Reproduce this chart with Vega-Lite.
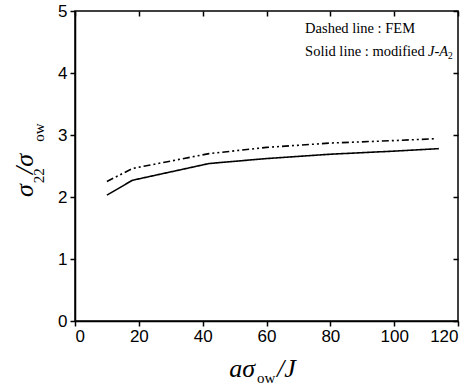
{
  "$schema": "https://vega.github.io/schema/vega-lite/v6.json",
  "width": 383,
  "height": 310,
  "autosize": {"type": "none"},
  "padding": {"left": 75, "top": 11, "right": 17, "bottom": 68},
  "background": "white",
  "config": {
    "view": {"stroke": "black", "strokeWidth": 1.5},
    "axis": {"domainColor": "black", "domainWidth": 1.5, "tickColor": "black", "tickWidth": 1.5, "tickSize": 5, "labelFont": "Liberation Sans", "labelFontSize": 17, "labelColor": "black", "grid": false, "title": null}
  },
  "datasets": {
    "curves": [
      {"series": "FEM", "x": 10, "y": 2.25},
      {"series": "FEM", "x": 18, "y": 2.46},
      {"series": "FEM", "x": 42, "y": 2.70},
      {"series": "FEM", "x": 60, "y": 2.80},
      {"series": "FEM", "x": 80, "y": 2.87},
      {"series": "FEM", "x": 100, "y": 2.91},
      {"series": "FEM", "x": 113, "y": 2.94},
      {"series": "modified J-A2", "x": 10, "y": 2.03},
      {"series": "modified J-A2", "x": 18, "y": 2.27},
      {"series": "modified J-A2", "x": 42, "y": 2.54},
      {"series": "modified J-A2", "x": 60, "y": 2.62},
      {"series": "modified J-A2", "x": 80, "y": 2.69},
      {"series": "modified J-A2", "x": 100, "y": 2.74},
      {"series": "modified J-A2", "x": 114, "y": 2.78}
    ],
    "one": [{}]
  },
  "resolve": {"axis": {"x": "independent", "y": "independent"}},
  "layer": [
    {
      "data": {"name": "curves"},
      "mark": {"type": "line", "color": "black", "strokeWidth": 1.6},
      "encoding": {
        "x": {"field": "x", "type": "quantitative", "scale": {"domain": [0, 120], "nice": false}, "axis": {"orient": "bottom", "values": [0, 20, 40, 60, 80, 100, 120], "labelPadding": 2}},
        "y": {"field": "y", "type": "quantitative", "scale": {"domain": [0, 5], "nice": false}, "axis": {"orient": "left", "values": [0, 1, 2, 3, 4, 5], "labelPadding": 3}},
        "strokeDash": {"field": "series", "type": "nominal", "scale": {"domain": ["FEM", "modified J-A2"], "range": [[7, 3, 2, 3, 2, 3], [1, 0]]}, "legend": null}
      }
    },
    {
      "data": {"name": "one"},
      "mark": {"type": "text", "font": "Liberation Serif", "fontSize": 14.5, "align": "left", "baseline": "alphabetic", "color": "black"},
      "encoding": {
        "x": {"datum": 72.1, "type": "quantitative", "axis": {"orient": "top", "values": [0, 20, 40, 60, 80, 100, 120], "labels": false, "tickSize": -5, "domain": false}},
        "y": {"datum": 4.64, "type": "quantitative", "axis": {"orient": "right", "values": [0, 1, 2, 3, 4, 5], "labels": false, "tickSize": -5, "domain": false}},
        "text": {"value": "Dashed line : FEM"}
      }
    },
    {
      "data": {"name": "one"},
      "mark": {"type": "text", "font": "Liberation Serif", "fontSize": 14.5, "align": "left", "baseline": "alphabetic", "color": "black"},
      "encoding": {"x": {"datum": 72.1, "type": "quantitative", "axis": null}, "y": {"datum": 4.28, "type": "quantitative", "axis": null}, "text": {"value": "Solid line : modified "}}
    },
    {
      "data": {"name": "one"},
      "mark": {"type": "text", "font": "Liberation Serif", "fontSize": 14.5, "fontStyle": "italic", "align": "left", "baseline": "alphabetic", "color": "black"},
      "encoding": {"x": {"datum": 110.6, "type": "quantitative", "axis": null}, "y": {"datum": 4.28, "type": "quantitative", "axis": null}, "text": {"value": "J-A"}}
    },
    {
      "data": {"name": "one"},
      "mark": {"type": "text", "font": "Liberation Serif", "fontSize": 9.5, "align": "left", "baseline": "alphabetic", "color": "black"},
      "encoding": {"x": {"datum": 116.9, "type": "quantitative", "axis": null}, "y": {"datum": 4.22, "type": "quantitative", "axis": null}, "text": {"value": "2"}}
    },
    {
      "data": {"name": "one"},
      "mark": {"type": "text", "font": "Liberation Serif", "fontSize": 26, "fontStyle": "italic", "align": "right", "baseline": "alphabetic", "color": "black", "clip": false},
      "encoding": {"x": {"datum": 56.4, "type": "quantitative", "axis": null}, "y": {"datum": -0.9, "type": "quantitative", "axis": null}, "text": {"value": "aσ"}}
    },
    {
      "data": {"name": "one"},
      "mark": {"type": "text", "font": "Liberation Serif", "fontSize": 15, "align": "left", "baseline": "alphabetic", "color": "black", "clip": false},
      "encoding": {"x": {"datum": 57.0, "type": "quantitative", "axis": null}, "y": {"datum": -1.0, "type": "quantitative", "axis": null}, "text": {"value": "ow"}}
    },
    {
      "data": {"name": "one"},
      "mark": {"type": "text", "font": "Liberation Serif", "fontSize": 26, "fontStyle": "italic", "align": "left", "baseline": "alphabetic", "color": "black", "clip": false},
      "encoding": {"x": {"datum": 63.3, "type": "quantitative", "axis": null}, "y": {"datum": -0.9, "type": "quantitative", "axis": null}, "text": {"value": "/J"}}
    },
    {
      "data": {"name": "one"},
      "mark": {"type": "text", "font": "Liberation Serif", "fontSize": 26, "fontStyle": "italic", "align": "left", "baseline": "alphabetic", "angle": 270, "color": "black", "clip": false},
      "encoding": {"x": {"datum": -13.2, "type": "quantitative", "axis": null}, "y": {"datum": 2.0, "type": "quantitative", "axis": null}, "text": {"value": "σ"}}
    },
    {
      "data": {"name": "one"},
      "mark": {"type": "text", "font": "Liberation Serif", "fontSize": 15, "align": "left", "baseline": "alphabetic", "angle": 270, "color": "black", "clip": false},
      "encoding": {"x": {"datum": -9.7, "type": "quantitative", "axis": null}, "y": {"datum": 2.22, "type": "quantitative", "axis": null}, "text": {"value": "22"}}
    },
    {
      "data": {"name": "one"},
      "mark": {"type": "text", "font": "Liberation Serif", "fontSize": 26, "fontStyle": "italic", "align": "left", "baseline": "alphabetic", "angle": 270, "color": "black", "clip": false},
      "encoding": {"x": {"datum": -13.2, "type": "quantitative", "axis": null}, "y": {"datum": 2.37, "type": "quantitative", "axis": null}, "text": {"value": "/σ"}}
    },
    {
      "data": {"name": "one"},
      "mark": {"type": "text", "font": "Liberation Serif", "fontSize": 15, "align": "left", "baseline": "alphabetic", "angle": 270, "color": "black", "clip": false},
      "encoding": {"x": {"datum": -9.7, "type": "quantitative", "axis": null}, "y": {"datum": 2.89, "type": "quantitative", "axis": null}, "text": {"value": "ow"}}
    }
  ]
}
